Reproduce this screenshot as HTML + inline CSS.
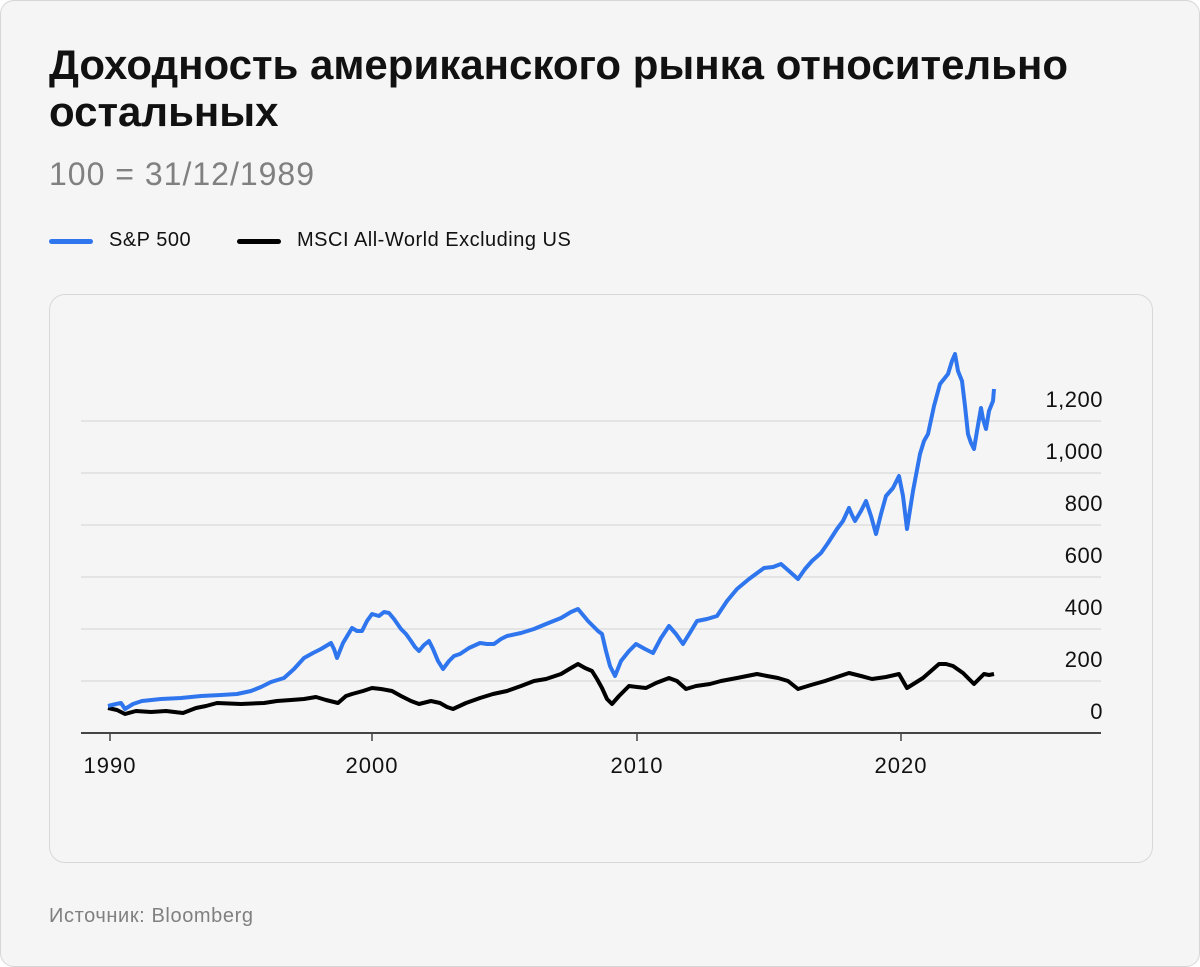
<!DOCTYPE html>
<html><head><meta charset="utf-8"><style>
body{margin:0;width:1200px;height:967px;background:#fff;font-family:"Liberation Sans",sans-serif;}
.card{position:absolute;left:0;top:0;width:1198px;height:965px;border:1px solid #d6d6d6;border-radius:14px;background:#f5f5f5;overflow:hidden}
.t{position:absolute;left:48px;top:40px;font-size:42px;font-weight:bold;line-height:47px;color:#111;letter-spacing:0;width:1120px}
.s{position:absolute;left:48px;top:155px;font-size:32px;color:#808080;letter-spacing:1px}
.lg{position:absolute;top:228px;font-size:20px;color:#111;letter-spacing:0.5px}
.sw{position:absolute;top:238px;width:44px;height:5px;border-radius:3px}
.src{position:absolute;left:48px;top:904px;font-size:20px;color:#808080;letter-spacing:0.6px}
.in{position:absolute;left:48px;top:293px;width:1102px;height:567px;border:1px solid #d8d8d8;border-radius:16px}
</style></head><body><div class="card">
<div class="t">Доходность американского рынка относительно остальных</div>
<div class="s">100 = 31/12/1989</div>
<div class="sw" style="left:48px;background:#2f76ee"></div><div class="lg" style="left:108px">S&amp;P 500</div>
<div class="sw" style="left:236px;background:#000"></div><div class="lg" style="left:296px">MSCI All-World Excluding US</div>
<div class="in"></div>
<svg style="position:absolute;left:0;top:0" width="1200" height="967">
<g stroke="#e4e4e4" stroke-width="2">
<line x1="80" x2="1100" y1="420" y2="420"/><line x1="80" x2="1100" y1="472" y2="472"/><line x1="80" x2="1100" y1="524" y2="524"/><line x1="80" x2="1100" y1="576" y2="576"/><line x1="80" x2="1100" y1="628" y2="628"/><line x1="80" x2="1100" y1="680" y2="680"/></g>
<line x1="80" x2="1100" y1="732" y2="732" stroke="#444" stroke-width="2"/>
<g stroke="#444" stroke-width="1.5"><line x1="109" x2="109" y1="732" y2="740"/><line x1="371" x2="371" y1="732" y2="740"/><line x1="636" x2="636" y1="732" y2="740"/><line x1="900" x2="900" y1="732" y2="740"/></g>
<g font-size="22" fill="#111" text-anchor="middle" letter-spacing="1"><text x="109" y="772">1990</text><text x="371" y="772">2000</text><text x="636" y="772">2010</text><text x="900" y="772">2020</text></g>
<g font-size="22" fill="#111" text-anchor="end" letter-spacing="0.5"><text x="1102" y="406">1,200</text><text x="1102" y="458">1,000</text><text x="1102" y="510">800</text><text x="1102" y="562">600</text><text x="1102" y="614">400</text><text x="1102" y="666">200</text><text x="1102" y="718">0</text></g>
<polyline fill="none" stroke="#000" stroke-width="4" stroke-linejoin="round" points="107,707 116,709 124,713 135,710 150,711 165,710 182,712 195,707 205,705 216,702 240,703 263,702 276,700 290,699 303,698 315,696 325,699 337,702 345,695 351,693 362,690 371,687 380,688 391,690 400,695 410,700 418,703 430,700 439,702 446,706 452,708 465,702 479,697 492,693 506,690 520,685 533,680 545,678 560,673 570,667 577,663 584,667 591,670 596,678 601,687 606,698 611,703 618,695 628,685 636,686 645,687 655,682 668,677 676,680 685,688 695,685 709,683 720,680 736,677 746,675 756,673 766,675 777,677 787,680 797,688 810,684 824,680 836,676 848,672 860,675 871,678 885,676 898,673 902,680 906,687 914,682 922,677 930,670 938,663 945,663 952,665 962,672 968,678 973,683 978,678 983,673 988,674 993,673"/>
<polyline fill="none" stroke="#2f76ee" stroke-width="4" stroke-linejoin="round" points="107,705 115,703 120,702 124,708 132,703 141,700 160,698 180,697 200,695 220,694 236,693 250,690 260,686 270,681 283,677 293,668 303,657 312,652 320,648 330,642 333,648 336,657 342,642 351,627 356,630 361,630 366,620 371,613 378,615 383,611 388,612 393,618 400,628 405,633 410,640 414,646 418,650 423,644 428,640 432,648 437,660 442,668 448,660 453,655 459,653 468,647 479,642 486,643 493,643 500,638 506,635 520,632 533,628 545,623 560,617 570,611 577,608 582,614 587,620 592,625 597,630 601,633 605,650 609,665 614,675 620,660 628,650 635,643 644,648 652,652 660,637 668,625 675,633 682,643 690,630 696,620 706,618 716,615 726,600 736,588 748,578 763,567 772,566 780,563 788,570 797,578 804,568 811,560 820,552 827,542 836,528 842,520 848,507 851,514 854,520 860,510 865,500 870,515 875,533 880,513 885,495 892,487 898,475 902,495 906,528 912,490 919,453 923,440 927,433 933,405 939,383 943,378 947,373 951,360 954,353 957,370 961,380 964,405 967,433 970,442 973,448 976,430 980,407 982,418 985,428 988,410 992,400 993,388"/>
</svg>
<div class="src">Источник: Bloomberg</div>
</div></body></html>
